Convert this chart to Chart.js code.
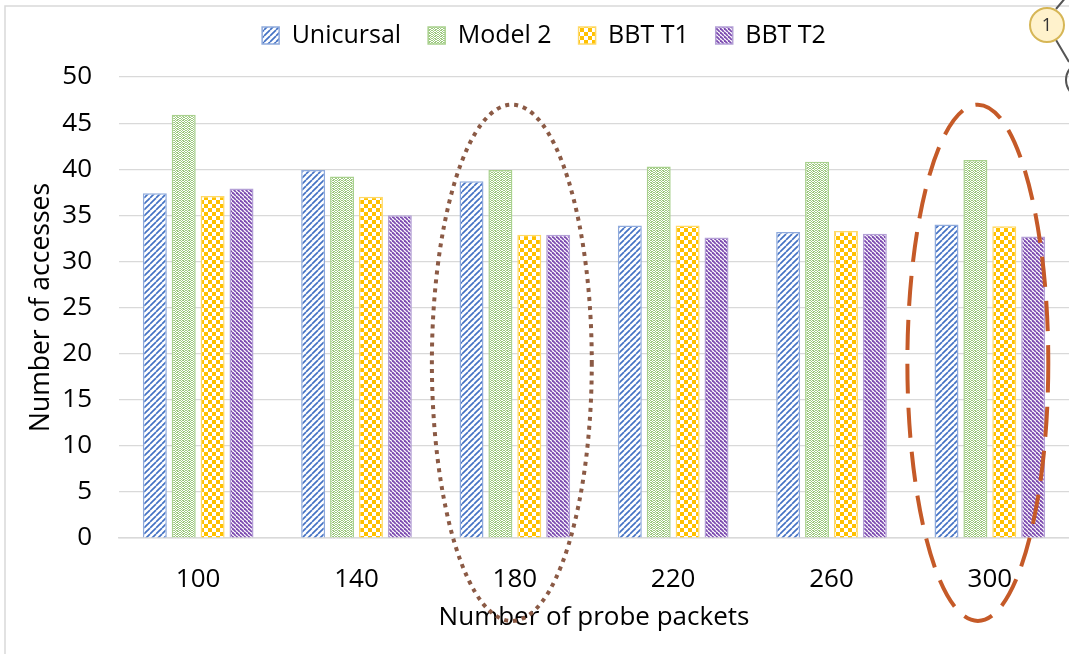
<!DOCTYPE html>
<html>
<head>
<meta charset="utf-8">
<script src="https://cdn.jsdelivr.net/npm/chart.js@4/dist/chart.umd.min.js"></script>
<style>
  html, body { margin: 0; padding: 0; background: #fff; }
  #wrap { width: 1069px; height: 654px; position: relative; }
</style>
</head>
<body>
<div id="wrap"><canvas id="chart" width="1069" height="654"></canvas></div>
<script>
// data
const probePackets = ['100', '140', '180', '220', '260', '300'];
const unicursal = [37.4, 39.9, 38.7, 33.9, 33.2, 34.0];
const model2    = [45.9, 39.2, 39.9, 40.3, 40.8, 41.0];
const bbtT1     = [37.1, 37.0, 32.9, 33.9, 33.3, 33.8];
const bbtT2     = [37.9, 35.0, 32.9, 32.6, 33.0, 32.7];
const yTicks    = [0, 5, 10, 15, 20, 25, 30, 35, 40, 45, 50];

const FONT = '"Open Sans", "Noto Sans", sans-serif';

// small tiles used as bar fills
function makeTile(size, paint) {
    const c = document.createElement('canvas');
    c.width = size; c.height = size;
    const g = c.getContext('2d');
    g.fillStyle = '#fff';
    g.fillRect(0, 0, size, size);
    paint(g, size);
    return g.createPattern(c, 'repeat');
}

const stripesUp = makeTile(6, function (g, s) {
    g.strokeStyle = '#4472c4';
    g.lineWidth = 1.7;
    for (let k = -1; k <= 1; k++) {
        g.beginPath();
        g.moveTo(k * s, s);
        g.lineTo(k * s + s, 0);
        g.stroke();
    }
});

const greenNoise = makeTile(6, function (g) {
    g.fillStyle = '#9cc87e';
    const px = [[0,0],[2,0],[3,0],[5,0],[1,1],[4,1],[0,2],[2,2],[3,2],[5,2],[1,3],[3,3],[4,3],[0,4],[2,4],[5,4],[1,5],[3,5],[4,5]];
    px.forEach(function (p) { g.fillRect(p[0], p[1], 1, 1); });
});

const checker = makeTile(8, function (g) {
    g.fillStyle = '#ffc000';
    g.fillRect(0, 0, 4, 4);
    g.fillRect(4, 4, 4, 4);
});

const stripesDown = makeTile(4, function (g, s) {
    g.strokeStyle = '#7d4cb0';
    g.lineWidth = 1.8;
    for (let k = -1; k <= 1; k++) {
        g.beginPath();
        g.moveTo(k * s, 0);
        g.lineTo(k * s + s, s);
        g.stroke();
    }
});

// extra room under the legend row
const legendGap = {
    id: 'legendGap',
    beforeInit: function (chart) {
        const fit = chart.legend.fit;
        chart.legend.fit = function () {
            fit.call(this);
            this.height += 19;
        };
    }
};

// frame, callout bubble and the two ellipses drawn over the chart
const decorations = {
    id: 'decorations',
    beforeDraw: function (chart) {
        const ctx = chart.ctx;
        ctx.save();
        ctx.strokeStyle = '#d9d9d9';
        ctx.lineWidth = 1.5;
        ctx.beginPath();
        ctx.moveTo(5, 654);
        ctx.lineTo(5, 6);
        ctx.lineTo(1069, 6);
        ctx.stroke();
        ctx.restore();
    },
    afterDraw: function (chart) {
        const ctx = chart.ctx;
        const x = chart.scales.x;
        const y = chart.scales.y;
        const step = x.getPixelForValue(1) - x.getPixelForValue(0);
        const top = y.getPixelForValue(47), bot = y.getPixelForValue(-9);

        ctx.save();
        // dotted ellipse round 180
        ctx.strokeStyle = '#8b5a45';
        ctx.lineWidth = 4;
        ctx.setLineDash([4, 5]);
        ctx.beginPath();
        ctx.ellipse(x.getPixelForValue(2) - 3, (top + bot) / 2, step * 0.505, (bot - top) / 2, 0, 0, Math.PI * 2);
        ctx.stroke();

        // dashed ellipse round 300
        ctx.strokeStyle = '#c55a28';
        ctx.setLineDash([30, 14]);
        ctx.beginPath();
        ctx.ellipse(x.getPixelForValue(5) - 12, (top + bot) / 2, step * 0.445, (bot - top) / 2, 0, 0, Math.PI * 2);
        ctx.stroke();
        ctx.setLineDash([]);

        // callout bubble in the corner
        ctx.strokeStyle = '#555';
        ctx.lineWidth = 2;
        ctx.beginPath();
        ctx.moveTo(1056, 9); ctx.lineTo(1067, -4);
        ctx.moveTo(1056, 40); ctx.lineTo(1069, 62);
        ctx.stroke();
        ctx.beginPath();
        ctx.arc(1084, 80, 18, 0, Math.PI * 2);
        ctx.stroke();
        ctx.fillStyle = '#fff2cc';
        ctx.strokeStyle = '#d6b656';
        ctx.beginPath();
        ctx.arc(1047, 25, 17, 0, Math.PI * 2);
        ctx.fill();
        ctx.stroke();
        ctx.fillStyle = '#333';
        ctx.font = '18px ' + FONT;
        ctx.textAlign = 'center';
        ctx.textBaseline = 'middle';
        ctx.fillText('1', 1047, 26);
        ctx.restore();
    }
};

new Chart(document.getElementById('chart'), {
    type: 'bar',
    data: {
        labels: probePackets,
        datasets: [
            { label: 'Unicursal', data: unicursal, backgroundColor: stripesUp, borderColor: '#8faadc', borderWidth: 1.5 },
            { label: 'Model 2', data: model2, backgroundColor: greenNoise, borderColor: '#a9d18e', borderWidth: 1.5 },
            { label: 'BBT T1', data: bbtT1, backgroundColor: checker, borderColor: '#ffd966', borderWidth: 1.5 },
            { label: 'BBT T2', data: bbtT2, backgroundColor: stripesDown, borderColor: '#b4a0d6', borderWidth: 1.5 }
        ]
    },
    options: {
        responsive: false,
        animation: false,
        categoryPercentage: 0.73,
        barPercentage: 0.83,
        layout: { padding: { left: 19, right: 0, top: -4, bottom: 21 } },
        plugins: {
            legend: {
                position: 'top',
                labels: {
                    boxWidth: 17,
                    boxHeight: 17,
                    padding: 27,
                    color: '#000',
                    font: { family: FONT, size: 25 }
                }
            },
            tooltip: { enabled: false }
        },
        scales: {
            x: {
                afterFit: function (axis) {
                    axis.height = 95;
                },
                grid: { display: false, drawTicks: false },
                border: { color: '#d9d9d9', width: 1.5 },
                ticks: { color: '#000', font: { family: FONT, size: 26 }, padding: 26 },
                title: {
                    display: true,
                    text: 'Number of probe packets',
                    color: '#000',
                    font: { family: FONT, size: 26 },
                    padding: { top: 8, bottom: 0 }
                }
            },
            y: {
                min: 0,
                max: 50,
                afterBuildTicks: function (axis) {
                    axis.ticks = yTicks.map(function (v) { return { value: v }; });
                },
                afterFit: function (axis) {
                    axis.width = 100;
                },
                grid: { color: '#d9d9d9', lineWidth: 1.2, drawTicks: false },
                border: { display: false },
                ticks: { color: '#000', font: { family: FONT, size: 26 }, padding: 27 },
                title: {
                    display: true,
                    text: 'Number of accesses',
                    color: '#000',
                    font: { family: FONT, size: 26.5 },
                    padding: { top: 7, bottom: 0 }
                }
            }
        }
    },
    plugins: [legendGap, decorations]
});
</script>
</body>
</html>
